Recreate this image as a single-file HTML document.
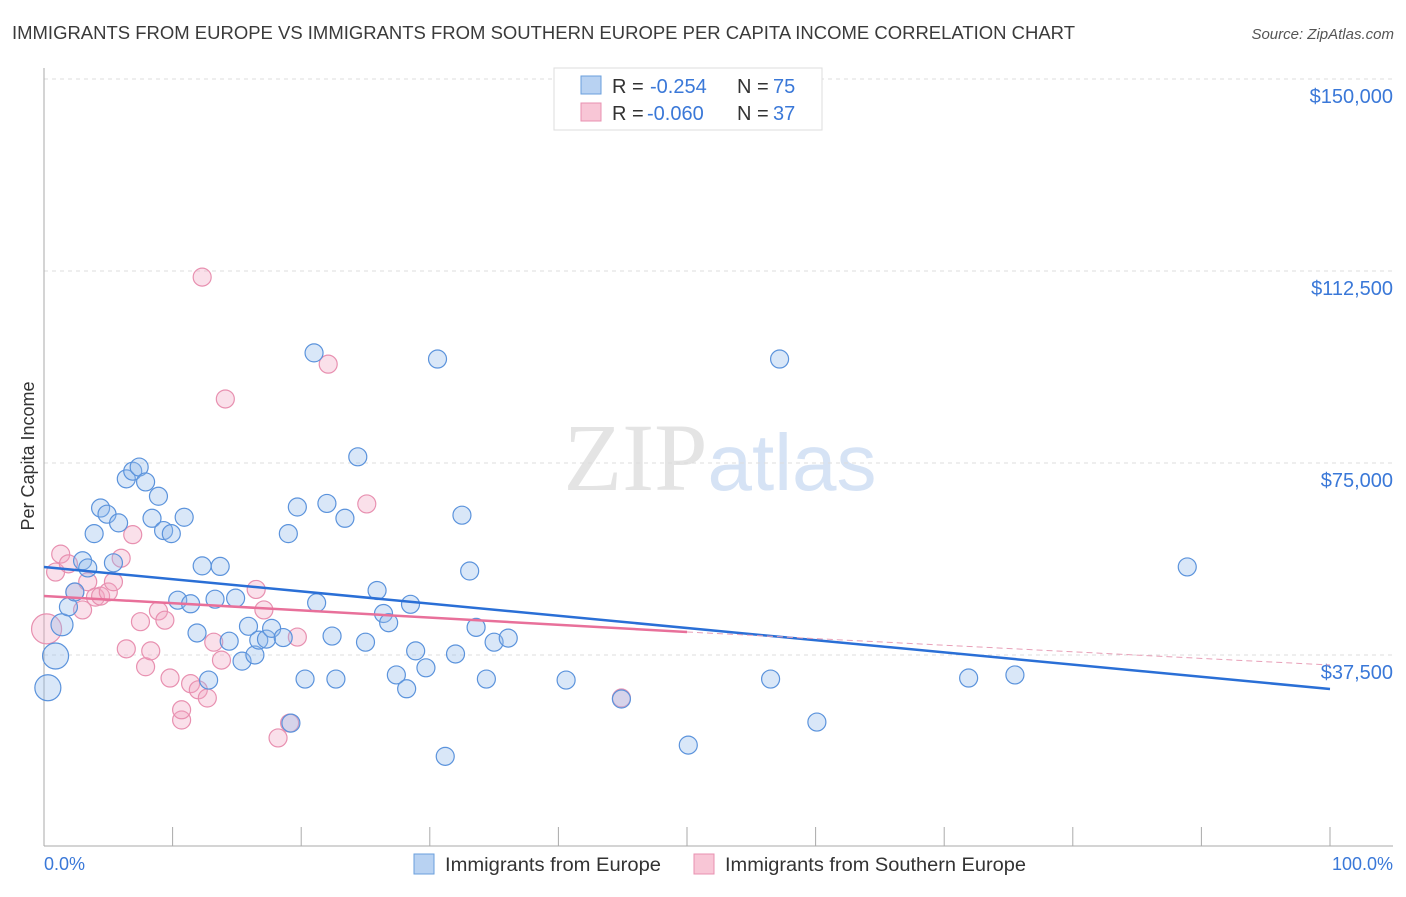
<!DOCTYPE html>
<html><head><meta charset="utf-8"><style>
body{margin:0;background:#fff;font-family:"Liberation Sans",sans-serif;}
</style></head><body>
<svg width="1406" height="892" xmlns="http://www.w3.org/2000/svg" font-family="Liberation Sans, sans-serif">
<text x="12" y="39" font-size="18" fill="#3a3a3a" textLength="1063" lengthAdjust="spacingAndGlyphs">IMMIGRANTS FROM EUROPE VS IMMIGRANTS FROM SOUTHERN EUROPE PER CAPITA INCOME CORRELATION CHART</text>
<text x="1394" y="39" font-size="15" font-style="italic" fill="#555" text-anchor="end">Source: ZipAtlas.com</text>
<text x="720" y="490" font-size="96" text-anchor="middle" fill="#e4e4e4" font-family="Liberation Serif, serif">ZIP<tspan fill="#d6e3f5" font-family="Liberation Sans, sans-serif" font-size="80">atlas</tspan></text>
<g id="grid"></g>
<g id="axes"></g>
<g id="marks"></g>
<text transform="translate(34,456) rotate(-90)" font-size="18" fill="#333" text-anchor="middle">Per Capita Income</text>
<text x="44" y="870" font-size="18" fill="#3a78d8">0.0%</text>
<text x="1393" y="870" font-size="18" fill="#3a78d8" text-anchor="end">100.0%</text>
<g>
<rect x="554" y="68" width="268" height="62" fill="#fff" stroke="#ddd"/>
<rect x="581" y="76" width="20" height="18" fill="#b8d2f2" stroke="#6a9fdc"/>
<rect x="581" y="103" width="20" height="18" fill="#f8c6d6" stroke="#e890b0"/>
<text x="612" y="93" font-size="20" fill="#333">R =</text>
<text x="650" y="93" font-size="20" fill="#3a78d8">-0.254</text>
<text x="737" y="93" font-size="20" fill="#333">N =</text>
<text x="773" y="93" font-size="20" fill="#3a78d8">75</text>
<text x="612" y="120" font-size="20" fill="#333">R =</text>
<text x="647" y="120" font-size="20" fill="#3a78d8">-0.060</text>
<text x="737" y="120" font-size="20" fill="#333">N =</text>
<text x="773" y="120" font-size="20" fill="#3a78d8">37</text>
</g>
<g>
<rect x="414" y="854" width="20" height="20" fill="#b8d2f2" stroke="#6a9fdc"/>
<text x="445" y="871" font-size="19" fill="#333" textLength="216" lengthAdjust="spacingAndGlyphs">Immigrants from Europe</text>
<rect x="694" y="854" width="20" height="20" fill="#f8c6d6" stroke="#e890b0"/>
<text x="725" y="871" font-size="19" fill="#333" textLength="301" lengthAdjust="spacingAndGlyphs">Immigrants from Southern Europe</text>
</g>
</svg>
<script>
const yTicks=[37500,75000,112500,150000];
const yTickLabels=["$37,500","$75,000","$112,500","$150,000"];
const xTicks=[0,10,20,30,40,50,60,70,80,90,100];
const blueX=[0.3,0.9,1.4,1.9,2.4,3.0,3.4,3.9,4.4,4.9,5.4,5.8,6.4,6.9,7.4,7.9,8.4,8.9,9.3,9.9,10.9,10.4,11.4,11.9,12.3,12.8,13.3,13.7,14.4,14.9,15.4,15.9,16.4,16.7,17.3,17.7,18.6,19.0,19.2,19.7,20.3,21.2,21.0,22.0,22.4,22.7,23.4,24.4,25.0,25.9,26.4,26.8,27.4,28.2,28.5,28.9,29.7,30.6,31.2,32.0,32.5,33.1,33.6,34.4,35.0,36.1,40.6,44.9,50.1,56.5,57.2,60.1,71.9,75.5,88.9];
const blueY=[31100,37300,43400,46900,49800,55900,54500,61200,66200,65000,55500,63300,71900,73400,74200,71300,64200,68500,61800,61200,64400,48200,47500,41800,54900,32600,48400,54800,40200,48600,36300,43100,37500,40400,40600,42700,40900,61200,24200,66400,32800,47700,96500,67100,41200,32800,64200,76200,40000,50100,45600,43800,33600,30900,47400,38300,35000,95300,17700,37700,64800,53900,42900,32800,40000,40800,32600,28900,19900,32800,95300,24400,33000,33600,54700];
const pinkX=[0.2,0.9,1.3,1.9,2.4,3.0,3.4,4.0,4.4,5.0,5.4,6.0,6.4,6.9,7.5,7.9,8.3,8.9,9.4,9.8,10.7,10.7,11.4,12.0,12.7,12.3,13.2,13.8,14.1,16.5,17.1,18.2,19.1,19.7,22.1,25.1,44.9];
const pinkY=[42600,53700,57200,55300,49800,46300,51800,48800,49000,49800,51800,56400,38700,61000,44000,35200,38300,46100,44300,33000,24800,26800,31900,30700,29100,111300,40000,36500,87500,50300,46300,21300,24200,41000,94300,67000,29100];
const blueBig={0:13,1:13,2:11};
const pinkBig={0:15};
const X=v=>44+v*12.86, Y=v=>847-v/195.3;
const NS="http://www.w3.org/2000/svg";
function mk(tag,at,parent){const e=document.createElementNS(NS,tag);for(const k in at)e.setAttribute(k,at[k]);document.getElementById(parent).appendChild(e);return e;}
yTicks.forEach((t,i)=>{
 const l=mk('line',{x1:44,x2:1393,y1:Y(t),y2:Y(t),stroke:'#ddd','stroke-dasharray':'4,4'},'grid');
 
 
 const tx=mk('text',{x:1393,y:Y(t)+24,'font-size':20,fill:'#3a78d8','text-anchor':'end'},'axes');
 tx.textContent=yTickLabels[i];
 
 
});
const ax=mk('line',{x1:44,x2:44,y1:68,y2:846,stroke:'#aaa'},'axes');


const bx=mk('line',{x1:44,x2:1393,y1:846,y2:846,stroke:'#aaa'},'axes');


xTicks.forEach(t=>{
 const l=mk('line',{x1:X(t),x2:X(t),y1:827,y2:846,stroke:'#aaa'},'axes');
 
 
});
pinkX.forEach((x,i)=>{
 const c=mk('circle',{cx:X(x),cy:Y(pinkY[i]),r:pinkBig[i]||9,fill:'rgba(242,165,195,0.35)',stroke:'#e890b0','stroke-width':1.2},'marks');
 
 
});
blueX.forEach((x,i)=>{
 const c=mk('circle',{cx:X(x),cy:Y(blueY[i]),r:blueBig[i]||9,fill:'rgba(145,186,235,0.35)',stroke:'#5b93dc','stroke-width':1.2},'marks');
 
 
});
const bl=mk('line',{x1:X(0),y1:567,x2:X(100),y2:689,stroke:'#2a6fd6','stroke-width':2.5},'marks');


const pl=mk('line',{x1:X(0),y1:596,x2:X(50),y2:632,stroke:'#e8709a','stroke-width':2.5},'marks');


const pd=mk('line',{x1:X(50),y1:632,x2:X(100),y2:665,stroke:'#e8a0b8','stroke-width':1,'stroke-dasharray':'6,4'},'marks');


</script>
</body></html>
